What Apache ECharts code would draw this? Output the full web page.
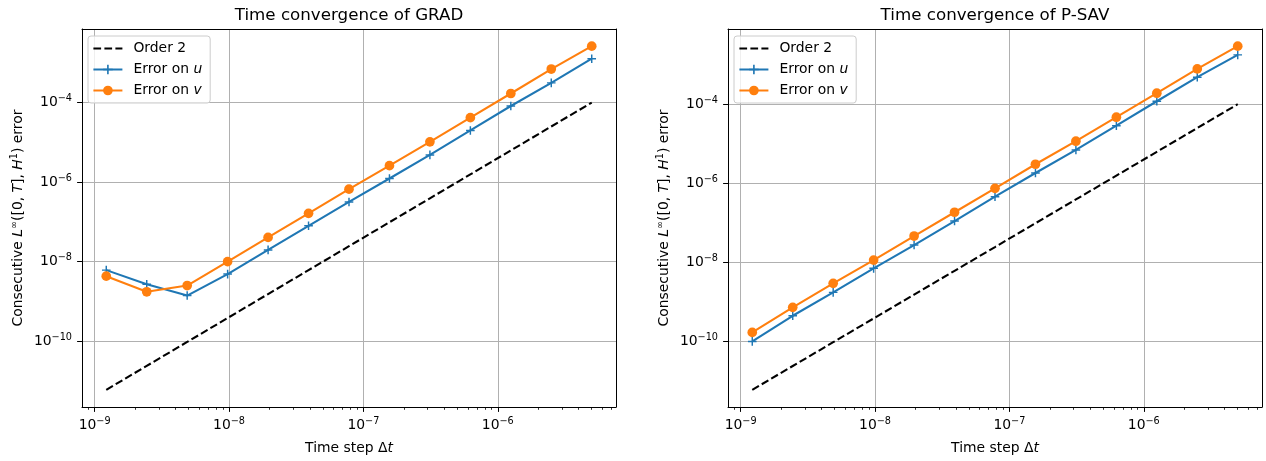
<!DOCTYPE html>
<html><head><meta charset="utf-8">
<script src="https://cdn.jsdelivr.net/npm/echarts@6/dist/echarts.min.js"></script>
<style>html,body{margin:0;padding:0;background:#fff}#c{width:1266px;height:461px}</style>
</head><body><div id="c"></div>
<script>
// ---- data ----
const dt = [1.220703125e-9, 2.44140625e-9, 4.8828125e-9, 9.765625e-9, 1.953125e-8, 3.90625e-8, 7.8125e-8, 1.5625e-7, 3.125e-7, 6.25e-7, 1.25e-6, 2.5e-6, 5e-6];
const order2 = [5.96e-12, 2.384e-11, 9.537e-11, 3.815e-10, 1.526e-9, 6.104e-9, 2.441e-8, 9.766e-8, 3.906e-7, 1.5625e-6, 6.25e-6, 2.5e-5, 1e-4];
const gradU = [6.1e-9, 2.7e-9, 1.4e-9, 4.85e-9, 1.97e-8, 7.96e-8, 3.17e-7, 1.23e-6, 4.83e-6, 1.99e-5, 8.2e-5, 3.13e-4, 1.27e-3];
const gradV = [4.3e-9, 1.74e-9, 2.5e-9, 1.0e-8, 4.06e-8, 1.64e-7, 6.65e-7, 2.59e-6, 1.03e-5, 4.17e-5, 1.69e-4, 6.97e-4, 2.62e-3];
const psavU = [1.0e-10, 4.45e-10, 1.74e-9, 7.05e-9, 2.74e-8, 1.11e-7, 4.58e-7, 1.82e-6, 6.97e-6, 2.87e-5, 1.19e-4, 4.83e-4, 1.77e-3];
const psavV = [1.69e-10, 7.26e-10, 2.94e-9, 1.14e-8, 4.63e-8, 1.85e-7, 7.46e-7, 3.03e-6, 1.16e-5, 4.69e-5, 1.90e-4, 7.83e-4, 2.94e-3];
const xMajorTicks = [1e-9, 1e-8, 1e-7, 1e-6];
const yMajorTicks = [1e-10, 1e-8, 1e-6, 1e-4];
const titles = ['Time convergence of GRAD', 'Time convergence of P-SAV'];
const seriesNames = ['Order 2', 'Error on u', 'Error on v'];

// ---- helpers ----
const FONT = 'DejaVu Sans';
const L = Math.log10;
function lim(arrs) {
  let lo = Infinity, hi = -Infinity;
  arrs.forEach(a => a.forEach(v => { const l = L(v); lo = Math.min(lo, l); hi = Math.max(hi, l); }));
  const m = (hi - lo) * 0.05;
  return [lo - m, hi + m];
}
const xl = lim([dt]);
const ylims = [lim([order2, gradU, gradV]), lim([order2, psavU, psavV])];
const minorX = [];
for (let e = -10; e <= -5; e++) for (let k = 2; k <= 9; k++) {
  const v = L(k) + e; if (v > xl[0] && v < xl[1]) minorX.push(v);
}
const xMaj = xMajorTicks.map(L), yMaj = yMajorTicks.map(L);
const supRich = {
  b: { fontSize: 13.9, fontFamily: FONT, color: '#000', lineHeight: 18 },
  s: { fontSize: 9.7, fontFamily: FONT, color: '#000', lineHeight: 10, verticalAlign: 'top' }
};
const powFmt = v => '{b|10}{s|\u2212' + Math.round(-v) + '}';
const plusPath = 'path://M-0.17,-1 L0.17,-1 L0.17,-0.17 L1,-0.17 L1,0.17 L0.17,0.17 L0.17,1 L-0.17,1 L-0.17,0.17 L-1,0.17 L-1,-0.17 L-0.17,-0.17 Z';
const BLUE = '#1f77b4', ORANGE = '#ff7f0e';
const pts = ys => dt.map((x, i) => [L(x), L(ys[i])]);

const grids = [{ left: 82, top: 29, width: 534, height: 378, outerBoundsMode: 'none' },
               { left: 728, top: 29, width: 534, height: 378, outerBoundsMode: 'none' }];
const xAxes = [], yAxes = [], series = [], legends = [], titleOpts = [];
const data = [[gradU, gradV], [psavU, psavV]];

[0, 1].forEach(g => {
  const yl = ylims[g];
  const xi = xAxes.length, yi = yAxes.length;
  xAxes.push({
    type: 'value', gridIndex: g, position: 'bottom', min: xl[0], max: xl[1],
    axisLine: { show: true, onZero: false, lineStyle: { color: '#000', width: 1 } },
    axisTick: { show: true, customValues: xMaj, length: 4.9, lineStyle: { color: '#000', width: 1 } },
    axisLabel: { customValues: xMaj, formatter: powFmt, margin: 9, rich: supRich, hideOverlap: false, showMinLabel: true, showMaxLabel: true },
    splitLine: { show: true, lineStyle: { color: '#b0b0b0', width: 1 } },
    name: '{n|Time step \u0394}{i|t}', nameLocation: 'middle', nameGap: 32,
    nameTextStyle: { rich: {
      n: { fontSize: 13.9, fontFamily: FONT, color: '#000', lineHeight: 18 },
      i: { fontSize: 13.9, fontFamily: FONT, fontStyle: 'italic', color: '#000', lineHeight: 18 } } }
  });
  xAxes.push({
    type: 'value', gridIndex: g, position: 'bottom', min: xl[0], max: xl[1],
    axisLine: { show: false }, axisLabel: { show: false }, splitLine: { show: false },
    axisTick: { show: true, customValues: minorX, length: 2.8, lineStyle: { color: '#000', width: 0.8 } }
  });
  xAxes.push({
    type: 'value', gridIndex: g, position: 'top', min: xl[0], max: xl[1],
    axisLine: { show: true, onZero: false, lineStyle: { color: '#000', width: 1 } },
    axisTick: { show: false }, axisLabel: { show: false }, splitLine: { show: false }
  });
  yAxes.push({
    type: 'value', gridIndex: g, position: 'left', min: yl[0], max: yl[1],
    axisLine: { show: true, onZero: false, lineStyle: { color: '#000', width: 1 } },
    axisTick: { show: true, customValues: yMaj, length: 4.9, lineStyle: { color: '#000', width: 1 } },
    axisLabel: { customValues: yMaj, formatter: powFmt, margin: 10, rich: supRich, showMinLabel: true, showMaxLabel: true },
    splitLine: { show: true, lineStyle: { color: '#b0b0b0', width: 1 } },
    name: '{n|Consecutive }{i|L}{s|\u221e}{n|([0, }{i|T}{n|], }{i|H}{s|1}{n|) error}',
    nameLocation: 'middle', nameGap: 55, nameRotate: 90,
    nameTextStyle: { rich: {
      n: { fontSize: 13.9, fontFamily: FONT, color: '#000', lineHeight: 18 },
      i: { fontSize: 13.9, fontFamily: FONT, fontStyle: 'italic', color: '#000', lineHeight: 18 },
      s: { fontSize: 9.7, fontFamily: FONT, color: '#000', lineHeight: 10, verticalAlign: 'top' } } }
  });
  yAxes.push({
    type: 'value', gridIndex: g, position: 'right', min: yl[0], max: yl[1],
    axisLine: { show: true, onZero: false, lineStyle: { color: '#000', width: 1 } },
    axisTick: { show: false }, axisLabel: { show: false }, splitLine: { show: false }
  });
  const common = { type: 'line', xAxisIndex: xi, yAxisIndex: yi, animation: false, silent: true,
                   emphasis: { disabled: true }, showAllSymbol: true, z: 3 };
  series.push(Object.assign({}, common, {
    name: seriesNames[0], data: pts(order2), symbol: 'none',
    lineStyle: { color: '#000', width: 2.08, type: [7.7, 3.3] }, itemStyle: { color: '#000' }
  }));
  series.push(Object.assign({}, common, {
    name: seriesNames[1], data: pts(data[g][0]), symbol: plusPath, symbolSize: 8.6,
    lineStyle: { color: BLUE, width: 2.08 }, itemStyle: { color: BLUE }
  }));
  series.push(Object.assign({}, common, {
    name: seriesNames[2], data: pts(data[g][1]), symbol: 'circle', symbolSize: 9.7,
    lineStyle: { color: ORANGE, width: 2.08 }, itemStyle: { color: ORANGE }
  }));
  legends.push({
    left: grids[g].left + 6, top: 36, orient: 'vertical', selectedMode: false,
    data: [{ name: seriesNames[0], itemStyle: { color: 'rgba(0,0,0,0)', borderWidth: 0 } }, seriesNames[1], seriesNames[2]],
    itemWidth: 29, itemHeight: 12, itemGap: 7, padding: [5.5, 8, 5.5, 4.4],
    backgroundColor: 'rgba(255,255,255,0.8)', borderColor: '#cccccc', borderWidth: 1, borderRadius: 3,
    formatter: n => n.replace(/ (u|v)$/, ' {i|$1}'),
    textStyle: { fontFamily: FONT, fontSize: 13.9, color: '#000', lineHeight: 14, padding: [0, 0, 0, 6],
      rich: { i: { fontFamily: FONT, fontSize: 13.9, fontStyle: 'italic', color: '#000', lineHeight: 14 } } }
  });
  titleOpts.push({
    text: titles[g], left: grids[g].left + grids[g].width / 2, top: 6, textAlign: 'center', padding: 0,
    textStyle: { fontFamily: FONT, fontSize: 16.7, fontWeight: 'normal', color: '#000', lineHeight: 20 }
  });
});

const chart = echarts.init(document.getElementById('c'), null, { renderer: 'canvas' });
chart.setOption({
  animation: false, backgroundColor: '#fff',
  title: titleOpts, legend: legends, grid: grids, xAxis: xAxes, yAxis: yAxes, series: series
});
</script>
</body></html>
